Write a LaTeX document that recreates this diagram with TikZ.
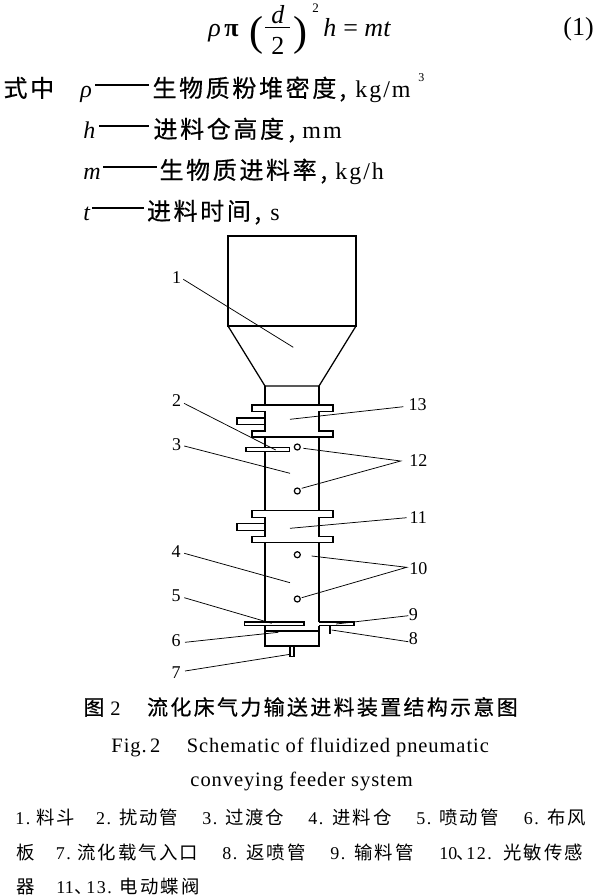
\documentclass[tikz,border=0pt]{standalone}
\usepackage{fontspec}
\setmainfont{Liberation Serif}
\newfontfamily\cjk[LetterSpace=11]{Noto Sans CJK SC}
\newfontfamily\cjkb[LetterSpace=11,FakeBold=0.5]{Noto Sans CJK SC}
\newfontfamily\cjkn{Noto Sans CJK SC}
\newfontfamily\serls[LetterSpace=8]{Liberation Serif}
\newfontfamily\sercap[LetterSpace=4.5]{Liberation Serif}
\newcommand{\tb}[2]{\rlap{\hspace{#1pt}#2}}
\newcommand{\bigcjk}{\fontsize{24}{24}\selectfont\cjkb}
\newcommand{\unitf}{\fontsize{24}{24}\selectfont\serls}
\newcommand{\capcjk}{\fontsize{21}{21}\selectfont\cjkb}
\newcommand{\legcjk}{\fontsize{18.4}{18.4}\selectfont\cjk}
\newcommand{\legser}{\fontsize{18}{18}\selectfont\serls}
\newcommand{\legnum}{\fontsize{18}{18}\selectfont\rmfamily}
\newcommand{\legdun}{\fontsize{18}{18}\selectfont\cjkn}
\newcommand{\capser}{\fontsize{20.5}{20.5}\selectfont\sercap}
\newcommand{\dashrule}[1]{\raisebox{11.5pt}{\rule{#1pt}{1.1pt}}}
\newcommand{\eqf}{\fontsize{26}{26}\selectfont}
\newcommand{\eqp}{\fontsize{42}{42}\selectfont}
\tikzset{
  line/.style={draw=black,line width=1.25pt,line join=miter},
  thick line/.style={draw=black,line width=2pt},
  leader/.style={draw=black,line width=0.75pt},
  num/.style={font=\fontsize{18}{18}\selectfont,inner sep=0pt},
  row/.style={anchor=base west,inner sep=0pt,outer sep=0pt},
  sensor/.style={draw=black,line width=1.2pt,circle,minimum size=6pt,inner sep=0pt,fill=white}
}
\begin{document}
\begin{tikzpicture}[x=1pt,y=-1pt]
\useasboundingbox (0,0) rectangle (600,895);
% equation
\node[row] (eq) at (0,36) {\tb{208}{\eqf\textit{ρ}}\tb{224}{\eqf\textbf{π}}\tb{249}{\raisebox{-9pt}{\eqp(}}\tb{271}{\raisebox{13pt}{\eqf\textit{d}}}\tb{265}{\raisebox{8pt}{\rule{25pt}{0.9pt}}}\tb{271}{\raisebox{-18pt}{\eqf 2}}\tb{293}{\raisebox{-9pt}{\eqp)}}\tb{312}{\raisebox{24pt}{\fontsize{13}{13}\selectfont 2}}\tb{323}{\eqf\textit{h}}\tb{343}{\eqf =}\tb{364}{\eqf\textit{mt}}};
\node[inner sep=0pt,font=\fontsize{26}{26}\selectfont] (eqno) at (578.5,29) {(1)};
% definitions
\node[row] (r1) at (0,97) {\tb{3}{\bigcjk 式中}\tb{80}{\fontsize{24}{24}\selectfont\textit{ρ}}\tb{95}{\dashrule{54}}\tb{152}{\bigcjk 生物质粉堆密度}\tb{339}{\bigcjk ,}\tb{355}{\unitf kg/m}\tb{418}{\raisebox{16pt}{\fontsize{12}{12}\selectfont 3}}};
\node[row] (r2) at (0,138) {\tb{83}{\fontsize{24}{24}\selectfont\textit{h}}\tb{99}{\dashrule{50}}\tb{153}{\bigcjk 进料仓高度}\tb{288}{\bigcjk ,}\tb{302}{\unitf mm}};
\node[row] (r3) at (0,179) {\tb{83}{\fontsize{24}{24}\selectfont\textit{m}}\tb{103}{\dashrule{54}}\tb{159}{\bigcjk 生物质进料率}\tb{320}{\bigcjk ,}\tb{335}{\unitf kg/h}};
\node[row] (r4) at (0,220) {\tb{83}{\fontsize{24}{24}\selectfont\textit{t}}\tb{92}{\dashrule{52}}\tb{146.5}{\bigcjk 进料时间}\tb{254}{\bigcjk ,}\tb{270}{\unitf s}};
% hopper
\draw[line] (228,236) rectangle (356,326);
\draw[line] (228,326) -- (265,386) -- (319,386) -- (356,326);
% column walls
\draw[line] (265,386) -- (265,622);
\draw[line] (319,386) -- (319,622);
% valves
\foreach \yy in {405,510.7}{
  \begin{scope}[shift={(0,\yy)}]
    \draw[line,fill=white] (265,0) -- (252,0) -- (252,6.5) -- (265,6.5) -- (265,26) -- (252,26) -- (252,32) -- (333,32) -- (333,26) -- (319,26) -- (319,6.5) -- (333,6.5) -- (333,0) -- cycle;
    \draw[line] (265,0) -- (319,0);
    \draw[line] (265,13) -- (237,13) -- (237,19.5) -- (265,19.5);
  \end{scope}
}
% disturbance pipe
\draw[line,fill=white] (246,447.5) rectangle (289.5,451.5);
% sensors
\node[sensor] (s12a) at (297.3,447) {};
\node[sensor] (s12b) at (297.3,491) {};
\node[sensor] (s10a) at (297.3,554.7) {};
\node[sensor] (s10b) at (297.3,599) {};
% bottom
\draw[line,fill=white] (244.5,622) rectangle (304,625.7);
\draw[line] (319,622) -- (354,622) -- (354,625.7) -- (320,625.7) -- (319,625.7);
\draw[line] (265,625.7) -- (265,646) -- (319,646) -- (319,625.7);
\draw[thick line] (265,631) -- (319,631);
\draw[thick line] (330.3,625.7) -- (330.3,633.5);
\draw[line] (290,646) -- (290,656.5) -- (294,656.5) -- (294,646);
% labels
\node[num] (n1) at (176.7,277.5) {1};
\node[num] (n2) at (176.7,401) {2};
\node[num] (n3) at (176.7,445) {3};
\node[num] (n4) at (176,551.7) {4};
\node[num] (n5) at (176,596) {5};
\node[num] (n6) at (176,641) {6};
\node[num] (n7) at (176,672.5) {7};
\node[num] (n8) at (413.3,638.3) {8};
\node[num] (n9) at (413.3,614.3) {9};
\node[num] (n10) at (418.3,568.3) {10};
\node[num] (n11) at (418.3,517.7) {11};
\node[num] (n12) at (418.3,460.7) {12};
\node[num] (n13) at (417.7,405) {13};
% leader ends
\coordinate (a1) at (183.3,279.3); \coordinate (b1) at (293.3,347.3);
\coordinate (a2) at (184,403.3);   \coordinate (b2) at (275.7,450);
\coordinate (a3) at (184.3,446);   \coordinate (b3) at (290,473.3);
\coordinate (a4) at (184.3,553.3); \coordinate (b4) at (290,582.7);
\coordinate (a5) at (184.3,597.7); \coordinate (b5) at (271.7,623.3);
\coordinate (a6) at (185,642.3);   \coordinate (b6) at (278.3,632.3);
\coordinate (a7) at (185,671);     \coordinate (b7) at (290,654.3);
\coordinate (a8) at (408.3,641.7); \coordinate (b8) at (331.7,630);
\coordinate (a9) at (408.3,615.7); \coordinate (b9) at (336,624);
\coordinate (a10) at (406.7,567.3); \coordinate (b10) at (311.7,556); \coordinate (c10) at (301.7,597.7);
\coordinate (a11) at (406.7,517.7); \coordinate (b11) at (290,528.3);
\coordinate (a12) at (400.7,461);   \coordinate (b12) at (303.3,448.3); \coordinate (c12) at (301.7,488.3);
\coordinate (a13) at (403.3,406.7); \coordinate (b13) at (290,419.3);
\draw[leader] (a1) -- (b1);
\draw[leader] (a2) -- (b2);
\draw[leader] (a3) -- (b3);
\draw[leader] (a4) -- (b4);
\draw[leader] (a5) -- (b5);
\draw[leader] (a6) -- (b6);
\draw[leader] (a7) -- (b7);
\draw[leader] (a8) -- (b8);
\draw[leader] (a9) -- (b9);
\draw[leader] (b10) -- (a10) -- (c10);
\draw[leader] (a11) -- (b11);
\draw[leader] (b12) -- (a12) -- (c12);
\draw[leader] (a13) -- (b13);
% captions
\node[row] (c1) at (0,715) {\tb{83}{\capcjk 图}\tb{110}{\capser 2}\tb{146.6}{\capcjk 流化床气力输送进料装置结构示意图}};
\node[row] (c2) at (0,752) {\tb{111}{\capser Fig.\,2}\tb{186.4}{\capser Schematic of fluidized pneumatic}};
\node[row] (c3) at (0,786) {\tb{190}{\capser conveying feeder system}};
\node[row] (l1) at (0,824) {\tb{15}{\legser 1.}\tb{35.6}{\legcjk 料斗}\tb{95.7}{\legser 2.}\tb{118.6}{\legcjk 扰动管}\tb{202}{\legser 3.}\tb{224.6}{\legcjk 过渡仓}\tb{308}{\legser 4.}\tb{332}{\legcjk 进料仓}\tb{416}{\legser 5.}\tb{439}{\legcjk 喷动管}\tb{523.5}{\legser 6.}\tb{547}{\legcjk 布风}};
\node[row] (l2) at (0,859) {\tb{16}{\legcjk 板}\tb{55.5}{\legser 7.}\tb{77}{\legcjk 流化载气入口}\tb{222}{\legser 8.}\tb{245.7}{\legcjk 返喷管}\tb{330}{\legser 9.}\tb{354}{\legcjk 输料管}\tb{439}{\legnum 10}\tb{456}{\legdun 、}\tb{466}{\legser 12.}\tb{503}{\legcjk 光敏传感}};
\node[row] (l3) at (0,893) {\tb{16}{\legcjk 器}\tb{56}{\legnum 11}\tb{74}{\legdun 、}\tb{86}{\legser 13.}\tb{119.4}{\legcjk 电动蝶阀}};
\end{tikzpicture}
\end{document}
